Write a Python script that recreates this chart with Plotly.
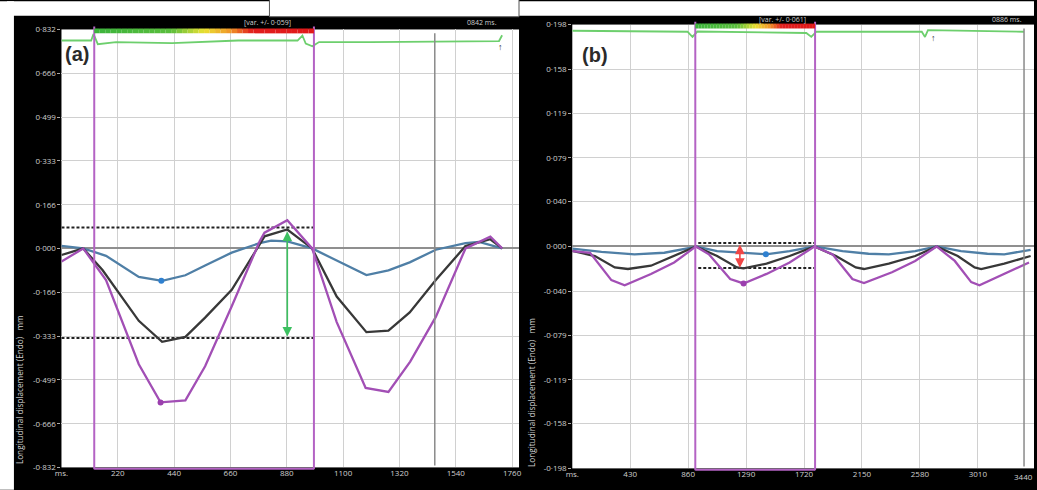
import plotly.graph_objects as go

W, H = 1037, 490

# ---------------- data: panel (a) ----------------
t_purple_a = [0, 85, 174, 302, 387, 484, 561, 665, 774, 793, 882, 979, 1075, 1188, 1277, 1362, 1462, 1578, 1675, 1721]
purple_a = [-0.05, 0.0, -0.12, -0.44, -0.585, -0.577, -0.448, -0.22, 0.027, 0.06, 0.107, 0.0, -0.28, -0.53, -0.545, -0.43, -0.26, 0.0, 0.045, 0.0]

t_black_a = [0, 85, 161, 302, 393, 484, 561, 665, 774, 793, 882, 979, 1075, 1191, 1277, 1360, 1462, 1578, 1675, 1721]
black_a = [-0.025, 0.0, -0.083, -0.275, -0.355, -0.336, -0.263, -0.157, 0.015, 0.046, 0.072, 0.0, -0.183, -0.318, -0.312, -0.243, -0.12, 0.009, 0.035, 0.0]

t_blue_a = [0, 85, 174, 302, 393, 484, 561, 665, 774, 819, 882, 979, 1075, 1191, 1277, 1360, 1462, 1578, 1631, 1721]
blue_a = [0.01, 0.0, -0.028, -0.108, -0.123, -0.102, -0.065, -0.016, 0.02, 0.03, 0.027, 0.0, -0.046, -0.101, -0.083, -0.053, -0.005, 0.02, 0.025, 0.0]

t_green_a = [0, 116, 125, 142, 213, 432, 690, 922, 941, 954, 980, 1006, 1206, 1709, 1721]
green_a = [0.79, 0.79, 0.815, 0.776, 0.784, 0.78, 0.79, 0.79, 0.809, 0.778, 0.768, 0.784, 0.784, 0.788, 0.81]

marker_blue_a = (390, -0.123)
marker_purple_a = (387, -0.585)
dash_levels_a = [0.08, -0.34]
dash_span_a = [0, 986]
arrow_a = (882, 0.07, -0.335)
roi_a = [128, 986]
gray_line_a = 1458

xticks_a = [0, 220, 440, 660, 880, 1100, 1320, 1540, 1760]
xticktext_a = ["ms.", "220", "440", "660", "880", "1100", "1320", "1540", "1760"]
yticks_a = [-0.832, -0.666, -0.499, -0.333, -0.166, 0.0, 0.166, 0.333, 0.499, 0.666, 0.832]

# ---------------- data: panel (b) ----------------
t_purple_b = [0, 132, 290, 389, 584, 756, 903, 917, 1014, 1172, 1271, 1442, 1613, 1797, 1932, 2079, 2165, 2373, 2545, 2704, 2839, 2961, 3022, 3182, 3390]
purple_b = [-0.0042, -0.0056, -0.030, -0.0346, -0.0245, -0.0143, -0.0013, 0.0, -0.007, -0.029, -0.033, -0.0245, -0.0143, 0.0, -0.007, -0.029, -0.0326, -0.023, -0.0129, 0.0, -0.0129, -0.0318, -0.0346, -0.026, -0.0143]

t_black_b = [0, 168, 315, 413, 584, 756, 903, 917, 1075, 1222, 1271, 1442, 1613, 1797, 1957, 2104, 2165, 2349, 2545, 2704, 2861, 2986, 3035, 3206, 3402]
black_b = [-0.004, -0.0085, -0.0187, -0.0201, -0.0172, -0.0085, -0.0007, 0.0, -0.0085, -0.0187, -0.0195, -0.0153, -0.0085, 0.0, -0.0085, -0.0187, -0.0201, -0.0153, -0.0085, 0.0, -0.0085, -0.0187, -0.0201, -0.0153, -0.0085]

t_blue_b = [0, 217, 462, 683, 903, 917, 1075, 1319, 1437, 1613, 1797, 2006, 2199, 2349, 2545, 2704, 2885, 3081, 3206, 3402]
blue_b = [-0.002, -0.0048, -0.007, -0.0056, -0.0005, 0.0, -0.0042, -0.0065, -0.007, -0.0042, 0.0, -0.0042, -0.0065, -0.007, -0.0042, 0.0, -0.0042, -0.0065, -0.007, -0.003]

t_green_b = [0, 855, 892, 928, 1737, 1774, 1811, 2594, 2618, 2640, 3353]
green_b = [0.1925, 0.1916, 0.187, 0.1918, 0.1905, 0.187, 0.1916, 0.1916, 0.187, 0.1930, 0.1916]

marker_blue_b = (1437, -0.007)
marker_purple_b = (1271, -0.033)
dash_levels_b = [0.003, -0.0192]
dash_span_b = [935, 1795]
arrow_b = (1244, 0.003, -0.019)
roi_b = [913, 1802]
gray_line_b = 3353

xticks_b = [0, 430, 860, 1290, 1720, 2150, 2580, 3010]
xticktext_b = ["ms.", "430", "860", "1290", "1720", "2150", "2580", "3010"]
yticks_b = [-0.198, -0.158, -0.119, -0.079, -0.040, 0.0, 0.040, 0.079, 0.119, 0.158, 0.198]

# ---------------- styles ----------------
PURPLE = "#a24fb5"
BLACK = "#383838"
BLUE = "#4f7fa6"
GREEN = "#6dcf6d"
GRID = "#d0d0d0"
TXT = "#cfcfcf"
FONT = "Open Sans"


def py(p):
    return 1 - p / H


def px(p):
    return p / W


def fmt(v):
    s = f"{abs(v):.3f}".replace(".", "·")
    return ("-" if v < 0 else "") + s


fig = go.Figure()

panels = [
    dict(xa="x", ya="y",
         purple=(t_purple_a, purple_a), black=(t_black_a, black_a), blue=(t_blue_a, blue_a),
         green=(t_green_a, green_a), mb=marker_blue_a, mp=marker_purple_a,
         dl=dash_levels_a, ds=dash_span_a, arrow=arrow_a, acol="#3cc060",
         roi=roi_a, gl=gray_line_a, lw=2.3),
    dict(xa="x2", ya="y2",
         purple=(t_purple_b, purple_b), black=(t_black_b, black_b), blue=(t_blue_b, blue_b),
         green=(t_green_b, green_b), mb=marker_blue_b, mp=marker_purple_b,
         dl=dash_levels_b, ds=dash_span_b, arrow=arrow_b, acol="#f04545",
         roi=roi_b, gl=gray_line_b, lw=2.3),
]

shapes = []
annotations = []

# page decorations
shapes.append(dict(type="rect", xref="paper", yref="paper", x0=0, x1=1, y0=py(10), y1=1.01,
                   fillcolor="white", line=dict(width=0), layer="below"))
shapes.append(dict(type="rect", xref="paper", yref="paper", x0=-0.01, x1=px(7), y0=-0.01, y1=1.01,
                   fillcolor="white", line=dict(width=0), layer="below"))
shapes.append(dict(type="rect", xref="paper", yref="paper", x0=px(265), x1=px(517), y0=py(11), y1=1.05,
                   fillcolor="white", line=dict(width=1, color="#555555"), layer="below"))

for i, p in enumerate(panels):
    xa, ya = p["xa"], p["ya"]
    for lvl in p["dl"]:
        fig.add_trace(go.Scatter(x=p["ds"], y=[lvl, lvl], mode="lines", xaxis=xa, yaxis=ya,
                                 line=dict(color="#222222", width=2, dash="3px,2px"), hoverinfo="skip"))
    fig.add_trace(go.Scatter(x=p["blue"][0], y=p["blue"][1], mode="lines", xaxis=xa, yaxis=ya,
                             line=dict(color=BLUE, width=p["lw"])))
    fig.add_trace(go.Scatter(x=p["black"][0], y=p["black"][1], mode="lines", xaxis=xa, yaxis=ya,
                             line=dict(color=BLACK, width=p["lw"])))
    fig.add_trace(go.Scatter(x=p["purple"][0], y=p["purple"][1], mode="lines", xaxis=xa, yaxis=ya,
                             line=dict(color=PURPLE, width=p["lw"])))
    fig.add_trace(go.Scatter(x=p["green"][0], y=p["green"][1], mode="lines", xaxis=xa, yaxis=ya,
                             line=dict(color=GREEN, width=1.8)))
    fig.add_trace(go.Scatter(x=[p["mb"][0]], y=[p["mb"][1]], mode="markers", xaxis=xa, yaxis=ya,
                             marker=dict(color="#2f80d0", size=6)))
    fig.add_trace(go.Scatter(x=[p["mp"][0]], y=[p["mp"][1]], mode="markers", xaxis=xa, yaxis=ya,
                             marker=dict(color="#9b3fae", size=6)))
    ax_x, y_top, y_bot = p["arrow"]
    annotations.append(dict(x=ax_x, y=y_bot, ax=ax_x, ay=y_top, xref=xa, yref=ya, axref=xa, ayref=ya,
                            showarrow=True, arrowhead=2, arrowside="end+start", arrowwidth=1.6,
                            arrowsize=1.2, arrowcolor=p["acol"], text=""))

geo = [
    dict(x0=55, x1=517, top=24, bot=472),
    dict(x0=570.8, x1=1037, top=19, bot=473),
]

for p, g in zip(panels, geo):
    xa = p["xa"]
    r0, r1 = p["roi"]
    for xv in (r0, r1):
        shapes.append(dict(type="line", xref=xa, yref="paper", x0=xv, x1=xv,
                           y0=py(g["bot"] + 2), y1=py(g["top"] - 3),
                           line=dict(color="#b463c4", width=2)))
    shapes.append(dict(type="line", xref=xa, yref="paper", x0=r0, x1=r1,
                       y0=py(g["bot"] + 1.5), y1=py(g["bot"] + 1.5),
                       line=dict(color="#b463c4", width=2)))
    shapes.append(dict(type="line", xref=xa, yref="paper", x0=p["gl"], x1=p["gl"],
                       y0=py(g["bot"] - 2), y1=py(g["top"] + 4),
                       line=dict(color="#8a8a8a", width=1.5)))
    n = 40
    stops = [(0.0, (60, 180, 60)), (0.35, (90, 190, 60)), (0.5, (235, 225, 50)),
             (0.62, (240, 150, 40)), (0.72, (225, 30, 30)), (1.0, (225, 25, 25))]
    for k in range(n):
        f = (k + 0.5) / n
        for (a, ca), (b, cb) in zip(stops[:-1], stops[1:]):
            if a <= f <= b:
                u = (f - a) / (b - a)
                c = tuple(int(ca[j] + (cb[j] - ca[j]) * u) for j in range(3))
                break
        xs0 = r0 + (r1 - r0) * k / n
        xs1 = r0 + (r1 - r0) * (k + 1) / n
        shapes.append(dict(type="rect", xref=xa, yref="paper", x0=xs0, x1=xs1,
                           y0=py(g["top"] + 4), y1=py(g["top"] - 1),
                           fillcolor=f"rgb{c}", line=dict(width=0)))


def label(text, x, y, font, angle=0):
    return dict(text=text, x=px(x), y=py(y), xref="paper", yref="paper", showarrow=False,
                xanchor="center", yanchor="middle", textangle=angle, font=font)


small = dict(family=FONT, size=7, color=TXT)
tag_font = dict(family="Liberation Sans", size=20, color="#2a2a2a")
ylab_font = dict(family=FONT, size=8.2, color=TXT)
annotations += [
    label("<b>(a)</b>", 71, 49, tag_font),
    label("<b>(b)</b>", 594, 50, tag_font),
    label("[var. +/- 0·059]", 263, 17, small),
    label("0842 ms.", 480, 17, small),
    label("[var. +/- 0·061]", 783, 14, small),
    label("0886 ms.", 1010, 14, small),
    label("↑", 498, 41, dict(family=FONT, size=9, color="#333333")),
    label("↑", 936, 32, dict(family=FONT, size=9, color="#333333")),
    label("Longitudinal displacement (Endo)   mm", 12, 392, ylab_font, -90),
    label("Longitudinal displacement (Endo)   mm", 529, 395, ylab_font, -90),
    label("3440", 1026, 481, dict(family=FONT, size=8, color=TXT)),
]

tickfont = dict(family=FONT, size=8, color=TXT)
xcommon = dict(showgrid=True, gridcolor=GRID, gridwidth=1, zeroline=False, showline=False,
               ticks="", tickfont=tickfont, fixedrange=True)
ycommon = dict(showgrid=True, gridcolor=GRID, gridwidth=1, zeroline=True, zerolinecolor="#8f8f8f",
               zerolinewidth=1.5, showline=False, ticks="outside", ticklen=3, tickcolor="#aaaaaa",
               tickfont=tickfont, fixedrange=True)

fig.update_layout(
    width=W, height=H,
    margin=dict(l=0, r=0, t=0, b=0),
    paper_bgcolor="black", plot_bgcolor="white",
    showlegend=False,
    xaxis=dict(domain=[px(55), px(517)], range=[0, 1787], tickmode="array",
               tickvals=xticks_a, ticktext=xticktext_a, anchor="y", **xcommon),
    yaxis=dict(domain=[py(472), py(24)], range=[-0.832, 0.832], tickmode="array",
               tickvals=yticks_a, ticktext=[fmt(v) for v in yticks_a], anchor="x", **ycommon),
    xaxis2=dict(domain=[px(570.8), 1.0], range=[0, 3427], tickmode="array",
                tickvals=xticks_b, ticktext=xticktext_b, anchor="y2", **xcommon),
    yaxis2=dict(domain=[py(473), py(19)], range=[-0.198, 0.198], tickmode="array",
                tickvals=yticks_b, ticktext=[fmt(v) for v in yticks_b], anchor="x2", **ycommon),
    shapes=shapes,
    annotations=annotations,
)

fig.write_html(
    "out.html",
    config={"displayModeBar": False, "responsive": False},
    post_script="document.body.style.margin='0';document.body.style.padding='0';document.body.style.overflow='hidden';",
)
